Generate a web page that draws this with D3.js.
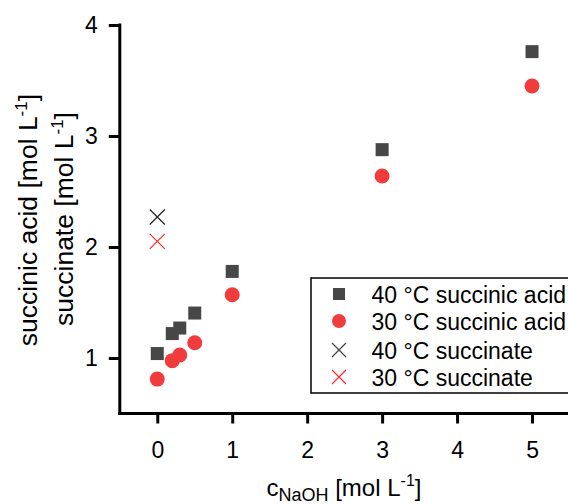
<!DOCTYPE html>
<html>
<head>
<meta charset="utf-8">
<script src="https://cdn.jsdelivr.net/npm/d3@7"></script>
<style>
  body { margin: 0; background: #fff; }
  text { font-family: "Liberation Sans", Arial, sans-serif; fill: #000; }
</style>
</head>
<body>
<div id="chart"></div>
<script>
// data
var naoh = [0, 0.2, 0.3, 0.5, 1, 3, 5];
var acid40 = [1.04, 1.22, 1.27, 1.405, 1.78, 2.877, 3.76];
var acid30 = [0.81, 0.976, 1.027, 1.138, 1.57, 2.64, 3.45];
var succinateX = [0];
var succinate40 = [2.27];
var succinate30 = [2.05];
var xTicks = [0, 1, 2, 3, 4, 5];
var yTicks = [1, 2, 3, 4];
var legendLabels = ["40 °C succinic acid", "30 °C succinic acid", "40 °C succinate", "30 °C succinate"];

var width = 568, height = 504;
var grey = "#474747", red = "#f03c3c";

var svg = d3.select("#chart")
    .append("svg")
    .attr("width", width)
    .attr("height", height);

svg.append("rect").attr("width", width).attr("height", height).attr("fill", "#fff");

var x = d3.scaleLinear().domain([-0.5, 5.5]).range([119.8, 569.5]);
var y = d3.scaleLinear().domain([0.5, 4]).range([413.5, 25]);

// X axis
var gx = svg.append("g")
    .attr("transform", "translate(0," + y(0.5) + ")")
    .call(d3.axisBottom(x).tickValues(xTicks).tickFormat(d3.format("d")).tickSize(10).tickSizeOuter(0));
gx.select(".domain").attr("stroke-width", 3).attr("d", "M" + (x(-0.5) - 1.5) + ",0H" + width * 2);
gx.selectAll(".tick line").attr("stroke-width", 3);
gx.selectAll(".tick text")
    .attr("y", 28.5)
    .attr("dy", "0.71em")
    .style("font-size", "23px")
    .style("font-family", "Liberation Sans, Arial, sans-serif");

// Y axis
var gy = svg.append("g")
    .attr("transform", "translate(" + x(-0.5) + ",0)")
    .call(d3.axisLeft(y).tickValues(yTicks).tickFormat(d3.format("d")).tickSize(11).tickSizeOuter(0));
gy.select(".domain").attr("stroke-width", 3).attr("d", "M0," + (y(4) - 1.5) + "V" + (y(0.5) + 1.5));
gy.selectAll(".tick line").attr("stroke-width", 3);
gy.selectAll(".tick text")
    .attr("x", -22)
    .style("font-size", "23px")
    .style("font-family", "Liberation Sans, Arial, sans-serif");

// 40 °C succinic acid squares
var sq = 13;
svg.selectAll(".sq")
    .data(naoh.map(function (d, i) { return [d, acid40[i]]; }))
    .enter().append("rect")
    .attr("x", function (d) { return x(d[0]) - sq / 2; })
    .attr("y", function (d) { return y(d[1]) - sq / 2; })
    .attr("width", sq)
    .attr("height", sq)
    .attr("fill", grey);

// 30 °C succinic acid circles
svg.selectAll(".ci")
    .data(naoh.map(function (d, i) { return [d, acid30[i]]; }))
    .enter().append("circle")
    .attr("cx", function (d) { return x(d[0]); })
    .attr("cy", function (d) { return y(d[1]); })
    .attr("r", 7.5)
    .attr("fill", red);

// succinate crosses
function cross(g, cx, cy, s, color) {
    g.append("path")
        .attr("d", "M" + (cx - s) + "," + (cy - s) + "L" + (cx + s) + "," + (cy + s) +
            "M" + (cx - s) + "," + (cy + s) + "L" + (cx + s) + "," + (cy - s))
        .attr("stroke", color)
        .attr("stroke-width", 1.2)
        .attr("fill", "none");
}
succinateX.forEach(function (d, i) {
    cross(svg, x(d), y(succinate40[i]), 7.5, "#222");
    cross(svg, x(d), y(succinate30[i]), 7.5, "#ff2a2a");
});

// Legend
var lg = svg.append("g");
lg.append("rect")
    .attr("x", 311).attr("y", 278)
    .attr("width", 320).attr("height", 115)
    .attr("fill", "#fff")
    .attr("stroke", "#000")
    .attr("stroke-width", 1.5);
var rowY = [294, 321, 350, 377];
lg.append("rect").attr("x", 339 - 6).attr("y", rowY[0] - 6).attr("width", 12).attr("height", 12).attr("fill", grey);
lg.append("circle").attr("cx", 339).attr("cy", rowY[1]).attr("r", 7).attr("fill", red);
cross(lg, 339, rowY[2], 7, "#444");
cross(lg, 339, rowY[3], 7, "#ff2a2a");
lg.selectAll(".lt")
    .data(legendLabels)
    .enter().append("text")
    .attr("x", 371.5)
    .attr("y", function (d, i) { return rowY[i] + 9; })
    .style("font-size", "23px")
    .text(function (d) { return d; });

// X axis title
var xt = svg.append("text")
    .attr("x", 344)
    .attr("y", 496)
    .attr("text-anchor", "middle")
    .style("font-size", "24px");
xt.append("tspan").text("c");
xt.append("tspan").attr("dy", 5).style("font-size", "18px").text("NaOH");
xt.append("tspan").attr("dy", -5).text(" [mol L");
xt.append("tspan").attr("dy", -10).style("font-size", "16px").text("-1");
xt.append("tspan").attr("dy", 10).text("]");

// Y axis titles
function yTitle(label, bx, cy) {
    var t = svg.append("text")
        .attr("transform", "translate(" + bx + "," + cy + ")rotate(-90)")
        .attr("text-anchor", "middle")
        .style("font-size", "26.5px");
    t.append("tspan").text(label + " [mol L");
    t.append("tspan").attr("dy", -10).style("font-size", "17px").text("-1");
    t.append("tspan").attr("dy", 10).text("]");
}
yTitle("succinic acid", 37, 220);
yTitle("succinate", 73, 219);
</script>
</body>
</html>
